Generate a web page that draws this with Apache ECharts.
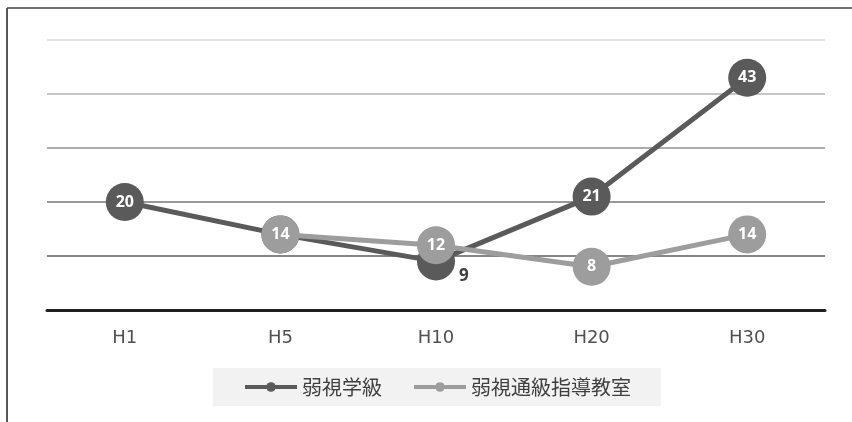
<!DOCTYPE html>
<html>
<head>
<meta charset="utf-8">
<script src="https://cdn.jsdelivr.net/npm/echarts@6/dist/echarts.min.js"></script>
<style>
  html, body { margin: 0; padding: 0; background: #fff; }
  #chart { width: 852px; height: 422px; }
</style>
</head>
<body>
<div id="chart"></div>
<script>
// Years (Heisei) on the horizontal axis
const categories = ['H1', 'H5', 'H10', 'H20', 'H30'];
// Number of classes / classrooms per year
const seriesNames = ['弱視学級', '弱視通級指導教室'];
const classValues = [20, 14, 9, 21, 43];
const tsukyuValues = [null, 14, 12, 8, 14];

const DARK = '#5a5a5a';
const LIGHT = '#9d9d9d';

const chart = echarts.init(document.getElementById('chart'));

const markerLabel = {
  show: true,
  position: 'inside',
  color: '#ffffff',
  fontFamily: 'Open Sans',
  fontWeight: 'bold',
  fontSize: 16
};

// The low point at H10 would sit under the other series' marker, so its label goes below-right
const classData = classValues.map((v, i) => {
  if (i === 2) {
    return {
      value: v,
      label: { position: 'right', distance: 4, offset: [0, 15], color: '#404040', fontSize: 17 }
    };
  }
  return v;
});

chart.setOption({
  animation: false,
  grid: { left: 47, right: 27, top: 40, bottom: 112 },
  xAxis: {
    type: 'category',
    data: categories,
    boundaryGap: true,
    axisLine: { lineStyle: { color: '#231f1f', width: 3 } },
    axisTick: { show: false },
    axisLabel: {
      margin: 19,
      color: '#505050',
      fontSize: 18,
      fontFamily: 'DejaVu Sans'
    }
  },
  yAxis: {
    type: 'value',
    min: 0,
    max: 50,
    interval: 10,
    axisLabel: { show: false },
    axisLine: { show: false },
    axisTick: { show: false },
    splitLine: {
      lineStyle: {
        width: 2,
        color: ['#231f1f', '#858585', '#999999', '#adadad', '#c6c6c6', '#e3e3e3']
      }
    }
  },
  legend: {
    bottom: 16,
    left: 213,
    backgroundColor: '#f2f2f2',
    padding: [9, 30, 9, 30],
    itemGap: 30,
    itemWidth: 52,
    itemHeight: 12,
    lineStyle: { width: 4 },
    textStyle: { color: '#404040', fontSize: 20, fontFamily: 'Noto Sans CJK JP' },
    data: seriesNames
  },
  graphic: [
    { type: 'line', shape: { x1: 7, y1: 8, x2: 852, y2: 8 }, style: { stroke: '#757070', lineWidth: 2 } },
    { type: 'line', shape: { x1: 7, y1: 8, x2: 7, y2: 422 }, style: { stroke: '#5a5555', lineWidth: 2 } }
  ],
  series: [
    {
      name: seriesNames[0],
      type: 'line',
      z: 2,
      data: classData,
      symbol: 'circle',
      symbolSize: 38,
      itemStyle: { color: DARK },
      lineStyle: { color: DARK, width: 5 },
      label: markerLabel
    },
    {
      name: seriesNames[1],
      type: 'line',
      z: 4,
      data: tsukyuValues,
      symbol: 'circle',
      symbolSize: 38,
      itemStyle: { color: LIGHT },
      lineStyle: { color: LIGHT, width: 5 },
      label: markerLabel
    }
  ]
});
</script>
</body>
</html>
